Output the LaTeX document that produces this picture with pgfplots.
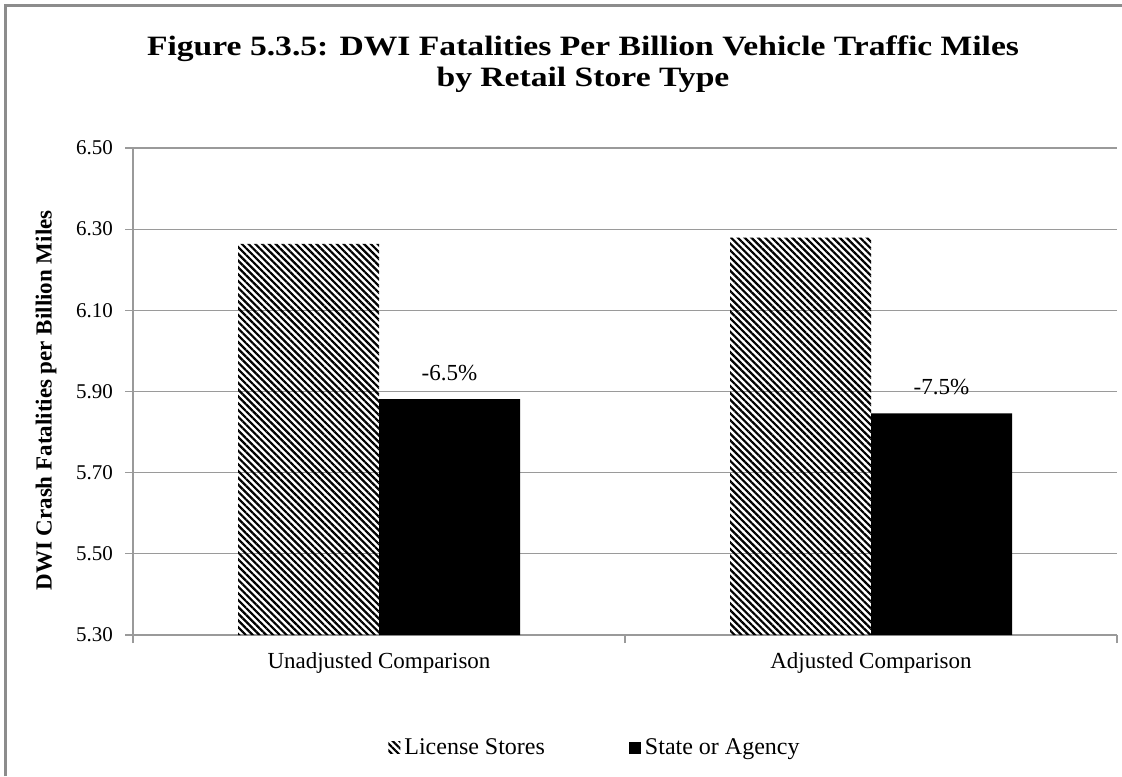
\documentclass[border=0pt]{standalone}
\usepackage{fontspec}
\setmainfont{Liberation Serif}
\usepackage{pgfplots}
\pgfplotsset{compat=1.18}
\usetikzlibrary{patterns.meta}
\definecolor{gridc}{HTML}{9A9A9A}
\definecolor{framec}{HTML}{8C8C8C}

\begin{document}
\begin{tikzpicture}
\path[use as bounding box] (0pt,0pt) rectangle (561pt,388pt);
\draw[framec,line width=1.2pt] (2.75pt,0pt) -- (2.75pt,385.25pt) -- (561pt,385.25pt);
\node[font=\bfseries\fontsize{14}{15.5}\selectfont,align=center] at (291.5pt,356pt)
  {\scalebox{1.2}[1]{Figure 5.3.5: DWI Fatalities Per Billion Vehicle Traffic Miles}\\
   \scalebox{1.2}[1]{by Retail Store Type}};
\begin{axis}[at={(66.5pt,70.5pt)},anchor=south west,scale only axis,
 width=492pt,height=243.5pt,
 xmin=-0.5,xmax=1.5,ymin=5.3,ymax=6.5,
 ybar=0pt,bar width=70.5pt,
 axis x line*=bottom,axis y line*=left,
 axis line style={gridc,line width=0.6pt},
 ytick={5.3,5.5,5.7,5.9,6.1,6.3,6.5},
 yticklabel={\pgfmathprintnumber[fixed,fixed zerofill,precision=2,assume math mode=true]{\tick}},
 yticklabel style={font=\fontsize{10.5}{12}\selectfont,xshift=-2.5pt},
 ymajorgrids,grid style={gridc,line width=0.6pt},
 tick align=outside,major tick length=4pt,tick style={gridc,line width=0.6pt},
 xtick={-0.5,0.5,1.5},xticklabels={},
 extra x ticks={0,1},extra x tick labels={Unadjusted Comparison,Adjusted Comparison},
 extra x tick style={major tick length=0pt,
   tick label style={font=\fontsize{11.5}{13}\selectfont,yshift=-5pt}},
 ylabel={DWI Crash Fatalities per Billion Miles},
 ylabel style={font=\bfseries\fontsize{11.5}{13}\selectfont,yshift=3pt,xshift=-4.5pt},
 legend columns=2,
 legend style={draw=none,at={(0.4705,-0.232)},anchor=center,
   font=\fontsize{12}{14}\selectfont,
   /tikz/every even column/.append style={column sep=40pt}},
 legend image code/.code={\fill[#1] (0pt,-3pt) rectangle (6pt,3pt);},
]
\addplot[draw=none,pattern={Lines[angle=-45,distance=2.4pt,line width=1.1pt]}]
  coordinates {(0,6.264) (1,6.279)};
\addlegendentry{License Stores}
\addplot[draw=none,fill=black,
  point meta=explicit symbolic,nodes near coords,
  every node near coord/.append style={anchor=center,yshift=13pt,text=black,
    font=\fontsize{11.5}{13}\selectfont}]
  coordinates {(0,5.881) [-6.5\%] (1,5.846) [-7.5\%]};
\addlegendentry{State or Agency}
\end{axis}
\end{tikzpicture}
\end{document}
